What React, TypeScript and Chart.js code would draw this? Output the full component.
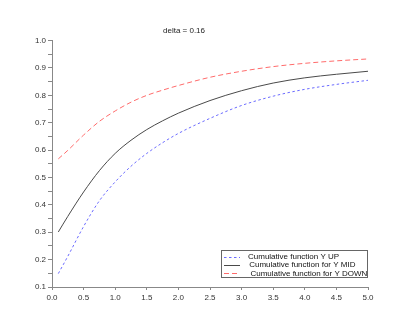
import React, { useEffect, useRef } from "react";
import { Chart, registerables } from "chart.js";

Chart.register(...registerables);

const xValues = [0.1, 0.25, 0.5, 0.75, 1.0, 1.25, 1.5, 1.75, 2.0, 2.5, 3.0, 3.5, 4.0, 4.5, 5.0];
const yUp = [0.149, 0.212, 0.321, 0.415, 0.484, 0.541, 0.588, 0.627, 0.661, 0.716, 0.763, 0.797, 0.822, 0.84, 0.855];
const yMid = [0.301, 0.358, 0.447, 0.525, 0.588, 0.636, 0.675, 0.707, 0.735, 0.781, 0.817, 0.845, 0.864, 0.877, 0.888];
const yDown = [0.568, 0.599, 0.655, 0.705, 0.743, 0.775, 0.8, 0.819, 0.836, 0.866, 0.888, 0.905, 0.917, 0.926, 0.933];
const seriesLabels = [
  "Cumulative function Y UP",
  "Cumulative function for Y MID",
  "Cumulative function for Y DOWN",
];
const titleText = "delta = 0.16";

const FONT = "'Liberation Sans', Arial, sans-serif";

const boxLegend = {
  id: "boxLegend",
  afterDraw(chart: any) {
    const { ctx, chartArea } = chart;
    const w = 146;
    const h = 27;
    const right = chartArea.right - 1;
    const bottom = chartArea.bottom - 10;
    const left = right - w;
    const top = bottom - h;
    ctx.save();
    ctx.fillStyle = "#ffffff";
    ctx.fillRect(left, top, w, h);
    ctx.strokeStyle = "#666666";
    ctx.lineWidth = 1;
    ctx.strokeRect(Math.round(left) + 0.5, Math.round(top) + 0.5, w, h);
    ctx.font = "8px " + FONT;
    ctx.textBaseline = "middle";
    chart.data.datasets.forEach((ds: any, i: number) => {
      const y = top + 6.5 + i * 8.4;
      ctx.strokeStyle = ds.borderColor;
      ctx.lineWidth = 1;
      ctx.setLineDash(ds.borderDash || []);
      ctx.beginPath();
      ctx.moveTo(left + 3, Math.round(y) + 0.5);
      ctx.lineTo(left + 19, Math.round(y) + 0.5);
      ctx.stroke();
      ctx.setLineDash([]);
      ctx.fillStyle = "#111111";
      ctx.fillText(ds.label, left + 27 + i * 1.2, y);
    });
    ctx.restore();
  },
};

export default function App() {
  const ref = useRef<HTMLCanvasElement>(null);
  useEffect(() => {
    if (!ref.current) return;
    const mk = (ys: number[]) => xValues.map((x, i) => ({ x, y: ys[i] }));
    const chart = new Chart(ref.current, {
      type: "line",
      data: {
        datasets: [
          {
            label: seriesLabels[0],
            data: mk(yUp),
            borderColor: "#6b6bff",
            borderWidth: 1,
            borderDash: [2.5, 2.5],
            pointRadius: 0,
            cubicInterpolationMode: "monotone",
          },
          {
            label: seriesLabels[1],
            data: mk(yMid),
            borderColor: "#4a4a4a",
            borderWidth: 1,
            pointRadius: 0,
            cubicInterpolationMode: "monotone",
          },
          {
            label: seriesLabels[2],
            data: mk(yDown),
            borderColor: "#ff6b6b",
            borderWidth: 1,
            borderDash: [5, 3],
            pointRadius: 0,
            cubicInterpolationMode: "monotone",
          },
        ],
      },
      options: {
        animation: false,
        responsive: false,
        layout: { padding: { left: 0, right: 52, top: 0, bottom: 0 } },
        plugins: {
          legend: { display: false },
          tooltip: { enabled: false },
          title: {
            display: true,
            text: titleText,
            color: "#222222",
            font: { family: FONT, size: 8, weight: "normal" },
            padding: { top: 26, bottom: 5 },
          },
        },
        scales: {
          x: {
            type: "linear",
            min: 0,
            max: 5,
            border: { display: true, color: "#888888", width: 1 },
            grid: { drawOnChartArea: false, drawTicks: true, tickLength: 3, color: "#888888" },
            ticks: {
              stepSize: 0.5,
              autoSkip: false,
              maxRotation: 0,
              padding: 3,
              color: "#333333",
              font: { family: FONT, size: 8 },
              callback: (v: any) => Number(v).toFixed(1),
            },
            afterFit: (s: any) => {
              s.height = 40;
            },
          },
          y: {
            type: "linear",
            min: 0.1,
            max: 1.0,
            border: { display: true, color: "#888888", width: 1 },
            grid: { drawOnChartArea: false, drawTicks: true, tickLength: 4, color: "#888888" },
            ticks: {
              stepSize: 0.05,
              autoSkip: false,
              padding: 2,
              color: "#333333",
              font: { family: FONT, size: 8 },
              callback: (v: any) => {
                const n = Math.round(Number(v) * 100);
                return n % 10 === 0 ? (n / 100).toFixed(1) : "";
              },
            },
            afterFit: (s: any) => {
              s.width = 52;
            },
          },
        },
      },
      plugins: [boxLegend],
    } as any);
    return () => chart.destroy();
  }, []);
  return (
    <canvas
      ref={ref}
      width={420}
      height={327}
      style={{ position: "absolute", left: 0, top: 0, display: "block", background: "#ffffff" }}
    />
  );
}
